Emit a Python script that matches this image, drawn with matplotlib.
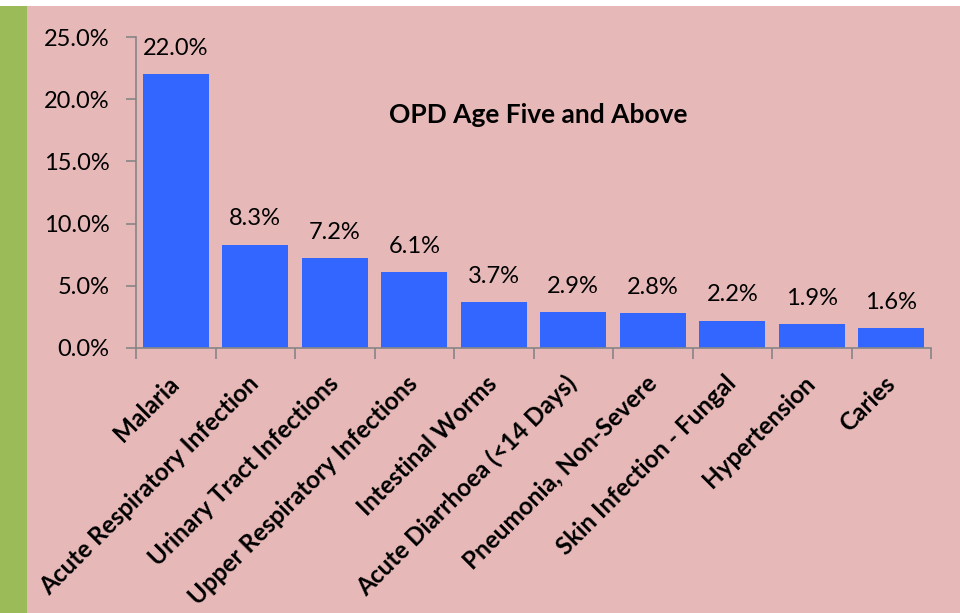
import matplotlib.pyplot as plt
from matplotlib.patches import Rectangle
from matplotlib.ticker import FuncFormatter
from matplotlib.transforms import ScaledTranslation

categories = ["Malaria", "Acute Respiratory Infection", "Urinary Tract Infections",
              "Upper Respiratory Infections", "Intestinal Worms", "Acute Diarrhoea (<14 Days)",
              "Pneumonia, Non-Severe", "Skin Infection - Fungal", "Hypertension", "Caries"]
values = [22.0, 8.3, 7.2, 6.1, 3.7, 2.9, 2.8, 2.2, 1.9, 1.6]
title = "OPD Age Five and Above"

pink = "#E6B8B7"
plt.rcParams['font.family'] = ['Lato', 'DejaVu Sans']

fig = plt.figure(figsize=(9.6, 6.13), dpi=100)
fig.patch.set_facecolor("white")
# pink panel and green side strip
fig.add_artist(Rectangle((27 / 960, 0), 1, 607 / 613, transform=fig.transFigure,
                         facecolor=pink, edgecolor="none", zorder=0))
fig.add_artist(Rectangle((0, 0), 27 / 960, 607 / 613, transform=fig.transFigure,
                         facecolor="#9BBB59", edgecolor="none", zorder=0))

ax = fig.add_axes([136 / 960, 1 - 348 / 613, (931 - 136) / 960, (348 - 37) / 613])
ax.set_facecolor("none")

x = range(len(categories))
bars = ax.bar(x, values, width=0.83, color="#3366FF", zorder=2)
for xi, v in zip(x, values):
    ax.annotate(f"{v:.1f}%", (xi, v), xytext=(0, 11), textcoords="offset points",
                ha="center", va="bottom", fontsize=17)

ax.set_xlim(-0.5, len(categories) - 0.5)
ax.set_ylim(0, 25)
ax.set_yticks([0, 5, 10, 15, 20, 25])
ax.yaxis.set_major_formatter(FuncFormatter(lambda v, p: f"{v:.1f}%"))
ax.tick_params(axis="y", labelsize=17, length=7, color="#868686", width=1.2, pad=12)

ax.set_xticks([i + 0.5 for i in range(-1, len(categories))], minor=False)
ax.set_xticklabels([])
ax.set_xticks(list(x), minor=True)
ax.set_xticklabels(categories, minor=True, rotation=45, ha="right", rotation_mode="anchor",
                   fontsize=17.5, fontweight="bold")
ax.tick_params(axis="x", which="major", length=8, color="#868686", width=1.2)
ax.tick_params(axis="x", which="minor", length=0, pad=17)
shift = ScaledTranslation(-6 / 72, 0, fig.dpi_scale_trans)
for lbl in ax.get_xticklabels(minor=True):
    lbl.set_transform(lbl.get_transform() + shift)

for s in ["top", "right"]:
    ax.spines[s].set_visible(False)
for s in ["left", "bottom"]:
    ax.spines[s].set_color("#868686")
    ax.spines[s].set_linewidth(1.2)

ax.text(0.506, 0.749, title, transform=ax.transAxes, ha="center", va="center",
        fontsize=19, fontweight="bold")

fig.savefig("out.png", dpi=100)
